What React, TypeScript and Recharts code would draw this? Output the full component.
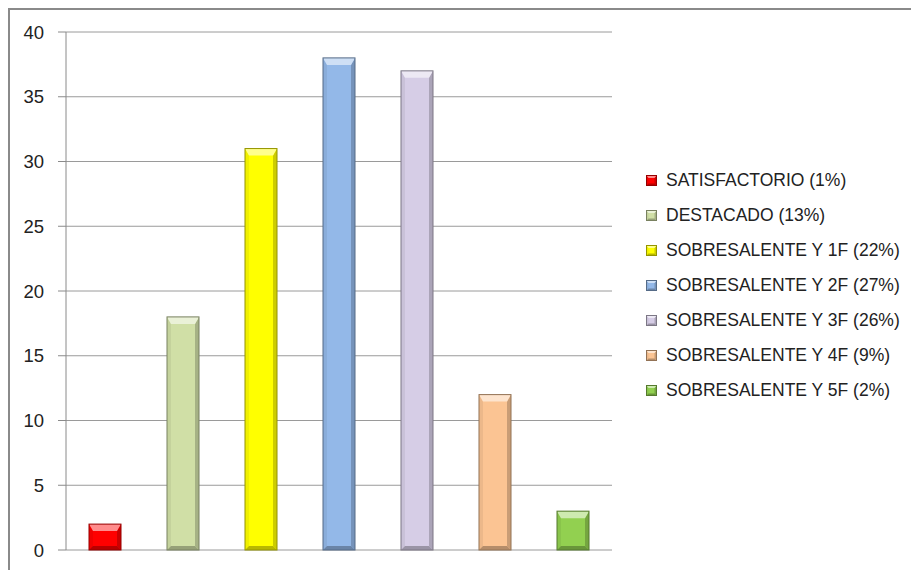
import { BarChart, Bar, XAxis, YAxis, CartesianGrid, Cell, Legend } from "recharts";

const CATEGORIES = [
  "SATISFACTORIO (1%)",
  "DESTACADO (13%)",
  "SOBRESALENTE Y 1F (22%)",
  "SOBRESALENTE Y 2F (27%)",
  "SOBRESALENTE Y 3F (26%)",
  "SOBRESALENTE Y 4F (9%)",
  "SOBRESALENTE Y 5F (2%)",
];
const VALUES = [2, 18, 31, 38, 37, 12, 3];
const Y_TICKS = [0, 5, 10, 15, 20, 25, 30, 35, 40];
const COLORS = ["#ff0000", "#d0dfa6", "#ffff00", "#93b8e8", "#d6cde6", "#fbc493", "#92d050"];

const data = CATEGORIES.map((name, i) => ({ name, value: VALUES[i] }));

// lighten (amt > 0) or darken (amt < 0) a hex colour
function shade(hex: string, amt: number) {
  const n = parseInt(hex.slice(1), 16);
  const ch = [(n >> 16) & 255, (n >> 8) & 255, n & 255].map((c) =>
    Math.round(amt >= 0 ? c + (255 - c) * amt : c * (1 + amt))
  );
  return "#" + ch.map((c) => c.toString(16).padStart(2, "0")).join("");
}

type BevelProps = { x: number; y: number; width: number; height: number; fill: string; s: number; t: number };

// Excel-style bevelled rectangle: light top, darker sides and bottom
function Bevel({ x, y, width, height, fill, s, t }: BevelProps) {
  const r = x + width;
  const bt = y + height;
  return (
    <g>
      <rect x={x} y={y} width={width} height={height} fill={fill} />
      <polygon points={`${x},${y} ${x + s},${y + t} ${x + s},${bt - s} ${x},${bt}`} fill={shade(fill, -0.06)} />
      <polygon points={`${r},${y} ${r - s},${y + t} ${r - s},${bt - s} ${r},${bt}`} fill={shade(fill, -0.2)} />
      <polygon points={`${x},${bt} ${x + s},${bt - s} ${r - s},${bt - s} ${r},${bt}`} fill={shade(fill, -0.28)} />
      <polygon points={`${x},${y} ${r},${y} ${r - s},${y + t} ${x + s},${y + t}`} fill={shade(fill, 0.55)} />
      <rect x={x} y={y} width={width} height={height} fill="none" stroke={shade(fill, -0.42)} strokeWidth={1} />
    </g>
  );
}

function BarShape(props: any) {
  const { x, y, width, height, fill } = props;
  if (!height || height <= 0) return null;
  const s = Math.min(4, width / 5, height / 4);
  const t = Math.min(7, height / 3);
  return <Bevel x={x} y={y} width={width} height={height} fill={fill} s={s} t={t} />;
}

function LegendBox() {
  return (
    <div style={{ fontSize: 17.5, color: "#222", lineHeight: "35px" }}>
      {CATEGORIES.map((c, i) => (
        <div key={c} style={{ display: "flex", alignItems: "center", whiteSpace: "nowrap" }}>
          <svg width={11} height={11} style={{ marginRight: 9 }}>
            <Bevel x={0.5} y={0.5} width={10} height={10} fill={COLORS[i]} s={2} t={2.5} />
          </svg>
          {c}
        </div>
      ))}
    </div>
  );
}

export default function App() {
  return (
    <div
      style={{
        width: 909,
        height: 580,
        border: "2px solid #8a8a8a",
        fontFamily: "'Liberation Sans', Arial, sans-serif",
        background: "#fff",
      }}
    >
      <style>{"body{overflow:hidden}"}</style>
      <BarChart width={909} height={560} data={data} margin={{ top: 22, right: 307, bottom: 20, left: 0 }}>
        <CartesianGrid vertical={false} stroke="#9a9a9a" />
        <XAxis dataKey="name" hide />
        <YAxis
          width={56}
          domain={[0, 40]}
          ticks={Y_TICKS}
          interval={0}
          tickSize={8}
          tickMargin={14}
          stroke="#8a8a8a"
          tick={{ fontSize: 18.5, fill: "#222" }}
        />
        <Legend
          layout="vertical"
          align="center"
          verticalAlign="middle"
          content={() => <LegendBox />}
          wrapperStyle={{ position: "absolute", left: 636, top: 153, width: 270 }}
        />
        <Bar dataKey="value" barSize={32} shape={<BarShape />} isAnimationActive={false}>
          {data.map((_, i) => (
            <Cell key={i} fill={COLORS[i]} />
          ))}
        </Bar>
      </BarChart>
    </div>
  );
}
